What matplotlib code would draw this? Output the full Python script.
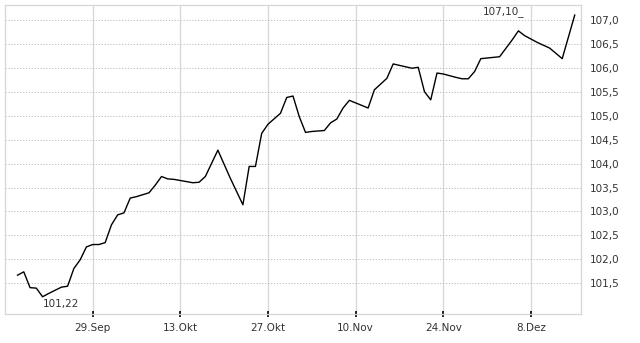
import datetime as dt

import matplotlib
matplotlib.use("Agg")
import matplotlib.pyplot as plt
import matplotlib.dates as mdates


# -------------------------------------------------
# Data
# -------------------------------------------------

base_date = dt.date(2025, 9, 29)

day_offsets = [
    -12, -11, -10, -9, -8, -7, -5, -4, -3, -2, -1, 0, 1, 2, 3, 4, 5, 6,
    7, 9, 10, 11, 12, 13, 16, 17, 18, 20, 22, 24, 25, 26, 27, 28, 30,
    31, 32, 33, 34, 35, 37, 38, 39, 40, 41, 44, 45, 47, 48, 51, 52, 53,
    54, 55, 56, 58, 59, 60, 61, 62, 65, 67, 68, 69, 71, 73, 75, 77,
]

prices = [
    101.67, 101.74, 101.41, 101.40, 101.22, 101.29, 101.42, 101.44,
    101.81, 101.99, 102.26, 102.31, 102.31, 102.35, 102.72, 102.93,
    102.97, 103.28, 103.31, 103.39, 103.55, 103.73, 103.68, 103.67,
    103.60, 103.61, 103.73, 104.28, 103.69, 103.14, 103.94, 103.94,
    104.63, 104.82, 105.05, 105.38, 105.41, 104.98, 104.65, 104.67,
    104.69, 104.85, 104.93, 105.16, 105.32, 105.16, 105.54, 105.78,
    106.08, 105.99, 106.01, 105.50, 105.33, 105.89, 105.87, 105.80,
    105.77, 105.77, 105.92, 106.19, 106.23, 106.58, 106.77, 106.67,
    106.53, 106.41, 106.19, 107.10,
]

dates = [base_date + dt.timedelta(days=d) for d in day_offsets]

x_tick_dates = [
    dt.date(2025, 9, 29),
    dt.date(2025, 10, 13),
    dt.date(2025, 10, 27),
    dt.date(2025, 11, 10),
    dt.date(2025, 11, 24),
    dt.date(2025, 12, 8),
]
x_tick_labels = ["29.Sep", "13.Okt", "27.Okt", "10.Nov", "24.Nov", "8.Dez"]

y_ticks = [101.5, 102.0, 102.5, 103.0, 103.5, 104.0, 104.5,
           105.0, 105.5, 106.0, 106.5, 107.0]
y_tick_labels = [f"{v:.1f}".replace(".", ",") for v in y_ticks]

min_label = "101,22"
max_label = "107,10_"


# -------------------------------------------------
# Figure
# -------------------------------------------------

fig = plt.figure(figsize=(6.4, 3.43), dpi=100)
ax = fig.add_axes([5 / 640, 1 - 314 / 343, 576 / 640, 309 / 343])

ax.plot(dates, prices, color="black", linewidth=1.0)

ax.set_xlim(dt.date(2025, 9, 15), dt.date(2025, 12, 16))
ax.set_ylim(100.86, 107.31)

ax.set_xticks([mdates.date2num(d) for d in x_tick_dates])
ax.set_xticklabels(x_tick_labels)
ax.set_yticks(y_ticks)
ax.set_yticklabels(y_tick_labels)

ax.yaxis.tick_right()
ax.tick_params(axis="y", length=0, pad=6, labelsize=7.5, labelcolor="#333333")
ax.tick_params(axis="x", length=5, direction="inout", width=1.2,
               color="black", pad=4, labelsize=7.5, labelcolor="#333333")

ax.grid(axis="x", color="#d6d6d6", linewidth=0.9, linestyle="-")
ax.grid(axis="y", color="#b4b4b4", linewidth=0.6, linestyle=(0, (1.5, 2)))

for spine in ax.spines.values():
    spine.set_color("#d6d6d6")
    spine.set_linewidth(0.9)

ax.text(dt.date(2025, 9, 24), 101.07, min_label, fontsize=7.5,
        color="#333333", ha="center", va="center")
ax.text(dt.date(2025, 12, 7), 107.17, max_label, fontsize=7.5,
        color="#333333", ha="right", va="center")

plt.savefig("out.png", dpi=100)
